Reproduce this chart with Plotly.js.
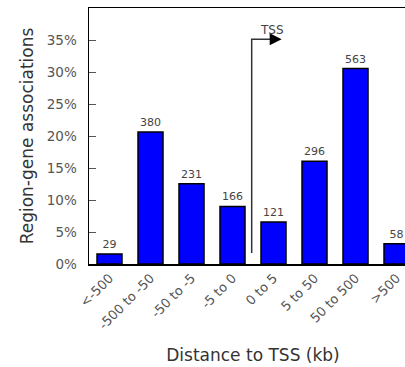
<!DOCTYPE html>
<html>
<head>
<meta charset="utf-8">
<script src="https://cdn.plot.ly/plotly-3.0.1.min.js"></script>
<style>
html, body { margin: 0; padding: 0; overflow: hidden; background: #fff; }
#chart { width: 430px; height: 367px; }
</style>
</head>
<body>
<div id="chart"></div>
<script>
const categories = ["<-500", "-500 to -50", "-50 to -5", "-5 to 0", "0 to 5", "5 to 50", "50 to 500", ">500"];
const counts = [29, 380, 231, 166, 121, 296, 563, 58];
const percents = [1.57, 20.61, 12.53, 9.00, 6.56, 16.05, 30.53, 3.15];
const yTickValues = [0, 5, 10, 15, 20, 25, 30, 35];
const yTickLabels = ["0%", "5%", "10%", "15%", "20%", "25%", "30%", "35%"];

const font = "DejaVu Sans, sans-serif";

const trace = {
  type: "bar",
  x: categories,
  y: percents,
  text: counts.map(String),
  textposition: "outside",
  textfont: { family: font, size: 11, color: "#444" },
  cliponaxis: false,
  width: 0.61,
  marker: { color: "#0000ff", line: { color: "#000", width: 1.5 } },
  hoverinfo: "none"
};

const layout = {
  width: 430,
  height: 367,
  margin: { l: 89, r: 13, t: 8, b: 103 },
  paper_bgcolor: "#fff",
  plot_bgcolor: "#fff",
  showlegend: false,
  font: { family: font, color: "#444" },
  xaxis: {
    type: "category",
    range: [-0.5, 7.5],
    tickangle: -45,
    ticks: "",
    showgrid: false,
    zeroline: false,
    showline: true,
    linecolor: "#000",
    linewidth: 1.5,
    mirror: true,
    tickfont: { family: font, size: 13, color: "#555" },
    title: { text: "Distance to TSS (kb)", font: { family: font, size: 17, color: "#333" }, standoff: 18 }
  },
  yaxis: {
    range: [0, 40],
    tickvals: yTickValues,
    ticktext: yTickLabels,
    ticks: "inside",
    ticklen: 7,
    tickwidth: 1,
    tickcolor: "#555",
    ticklabelstandoff: 8,
    showgrid: false,
    zeroline: false,
    showline: true,
    linecolor: "#000",
    linewidth: 1.5,
    mirror: true,
    tickfont: { family: font, size: 13.5, color: "#555" },
    title: { text: "Region-gene associations", font: { family: font, size: 17, color: "#333" }, standoff: 9 }
  },
  shapes: [{
    type: "path",
    xref: "x", yref: "y",
    path: "M 3.468,1.7 L 3.468,35.1 L 3.95,35.1",
    line: { color: "#333", width: 1.5 }
  }],
  annotations: [
    {
      xref: "x", yref: "y", axref: "x", ayref: "y",
      x: 4.2, y: 35.1, ax: 3.9, ay: 35.1,
      text: "", showarrow: true,
      arrowhead: 2, arrowsize: 1.6, arrowwidth: 1.5, arrowcolor: "#000"
    },
    {
      xref: "x", yref: "y",
      x: 3.96, y: 36.5,
      text: "TSS", showarrow: false,
      font: { family: font, size: 12, color: "#444" },
      xanchor: "center", yanchor: "middle"
    }
  ]
};

Plotly.newPlot("chart", [trace], layout, { displayModeBar: false, staticPlot: true });
</script>
</body>
</html>
